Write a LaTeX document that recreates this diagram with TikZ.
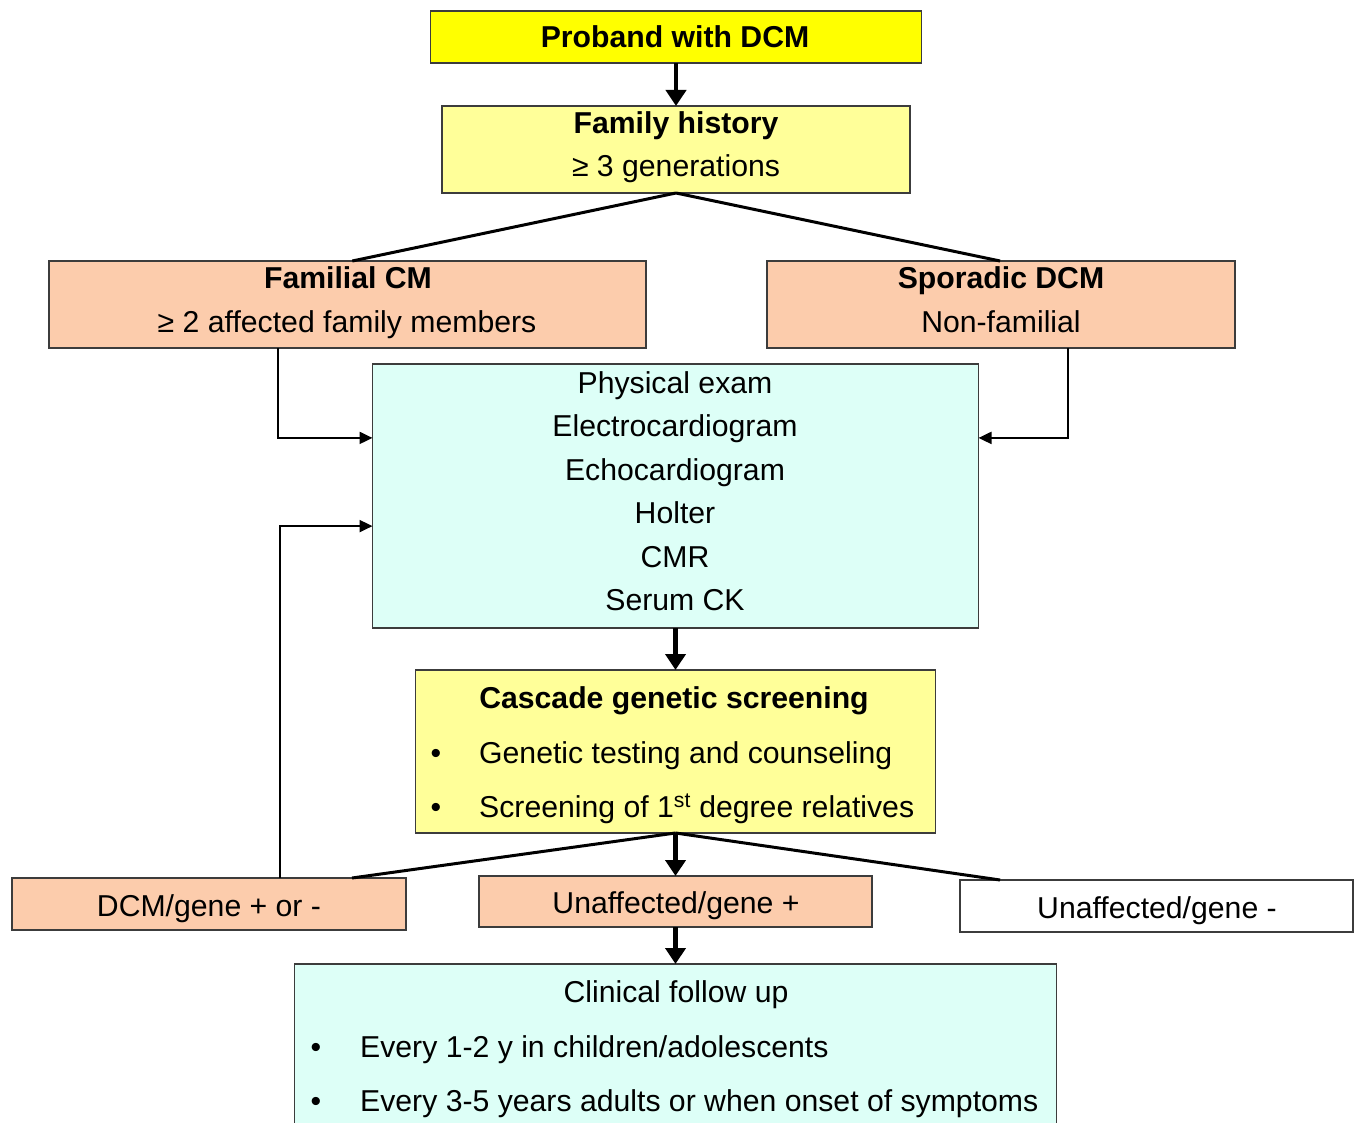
\documentclass[tikz,border=0pt]{standalone}
\usepackage{fontspec}
\setmainfont{Liberation Sans}
\usetikzlibrary{arrows.meta,calc}
\definecolor{cyel}{RGB}{255,255,0}
\definecolor{clyel}{RGB}{255,255,153}
\definecolor{cpeach}{RGB}{252,204,172}
\definecolor{cteal}{RGB}{221,255,247}
\definecolor{cedge}{RGB}{60,60,60}
\begin{document}
\begin{tikzpicture}[x=1pt,y=-1pt,
  box/.style={draw=cedge,line width=1.6pt,rectangle,inner sep=0pt,outer sep=0pt},
  txt/.style={font=\fontsize{30.2}{36}\selectfont,inner sep=0pt,anchor=base},
  txtb/.style={txt,font=\fontsize{30.2}{36}\selectfont\bfseries},
  txtw/.style={txt,anchor=base west},
  bigarrow/.style={line width=4.5pt,-{Triangle[length=16pt,width=20pt]}},
  thinarrow/.style={line width=2pt,-{Triangle[length=13pt,width=12pt]}},
  branch/.style={line width=3pt}]
\useasboundingbox (0,0) rectangle (1360,1123);
% boxes
\node[box,fill=cyel,minimum width=491pt,minimum height=52pt] (proband) at (676,37) {};
\node[box,fill=clyel,minimum width=468pt,minimum height=87pt] (famhist) at (676,149.5) {};
\node[box,fill=cpeach,minimum width=597pt,minimum height=87pt] (fcm) at (347.5,304.5) {};
\node[box,fill=cpeach,minimum width=468pt,minimum height=87pt] (sdcm) at (1001,304.5) {};
\node[box,fill=cteal,minimum width=606pt,minimum height=264pt] (exam) at (675.5,496) {};
\node[box,fill=clyel,minimum width=520pt,minimum height=163pt] (casc) at (675.5,751.5) {};
\node[box,fill=cpeach,minimum width=394pt,minimum height=52pt] (dcmg) at (209,904) {};
\node[box,fill=cpeach,minimum width=393pt,minimum height=51pt] (unaffp) at (675.5,901.5) {};
\node[box,fill=white,minimum width=393pt,minimum height=52pt] (unaffm) at (1156.5,906) {};
\node[box,fill=cteal,minimum width=762pt,minimum height=170pt] (follow) at (675.5,1049) {};
% texts
\node[txtb] (t1) at (675,48) {Proband with DCM};
\node[txtb] (t2) at (676,134) {Family history};
\node[txt] (t3) at (676,177) {≥ 3 generations};
\node[txtb] (t4) at (348,289) {Familial CM};
\node[txt] (t5) at (347,332) {≥ 2 affected family members};
\node[txtb] (t6) at (1001,289) {Sporadic DCM};
\node[txt] (t7) at (1001,332) {Non-familial};
\node[txt] (e1) at (675,393) {Physical exam};
\node[txt] (e2) at (675,436) {Electrocardiogram};
\node[txt] (e3) at (675,480) {Echocardiogram};
\node[txt] (e4) at (675,523) {Holter};
\node[txt] (e5) at (675,567) {CMR};
\node[txt] (e6) at (675,610) {Serum CK};
\node[txtb] (c1) at (674,708) {Cascade genetic screening};
\node[txt] (cb1) at (436,763) {\textbullet};
\node[txtw] (c2) at (479,763) {Genetic testing and counseling};
\node[txt] (cb2) at (436,817) {\textbullet};
\node[txtw] (c3) at (479,817) {Screening of 1\textsuperscript{st} degree relatives};
\node[txt] (d1) at (209,916) {DCM/gene + or -};
\node[txt] (d2) at (676,913) {Unaffected/gene +};
\node[txt] (d3) at (1157,918) {Unaffected/gene -};
\node[txt] (f1) at (676,1002) {Clinical follow up};
\node[txt] (fb1) at (316,1057) {\textbullet};
\node[txtw] (f2) at (360,1057) {Every 1-2 y in children/adolescents};
\node[txt] (fb2) at (316,1111) {\textbullet};
\node[txtw] (f3) at (360,1111) {Every 3-5 years adults or when onset of symptoms};
% connectors
\draw[bigarrow] (proband.south) -- (famhist.north);
\draw[branch] (famhist.south) -- ($(fcm.north west)!0.508!(fcm.north east)$);
\draw[branch] (famhist.south) -- ($(sdcm.north west)!0.498!(sdcm.north east)$);
\draw[thinarrow] ($(fcm.south west)!0.3836!(fcm.south east)$) |- ($(exam.north west)!0.28!(exam.south west)$);
\draw[thinarrow] ($(sdcm.south west)!0.643!(sdcm.south east)$) |- ($(exam.north east)!0.28!(exam.south east)$);
\draw[thinarrow] ($(dcmg.north west)!0.68!(dcmg.north east)$) |- ($(exam.north west)!0.614!(exam.south west)$);
\draw[bigarrow] (exam.south) -- (casc.north);
\draw[branch] (casc.south) -- ($(dcmg.north west)!0.863!(dcmg.north east)$);
\draw[branch] (casc.south) -- ($(unaffm.north west)!0.102!(unaffm.north east)$);
\draw[bigarrow] (casc.south) -- (unaffp.north);
\draw[bigarrow] (unaffp.south) -- (follow.north);
\end{tikzpicture}
\end{document}
